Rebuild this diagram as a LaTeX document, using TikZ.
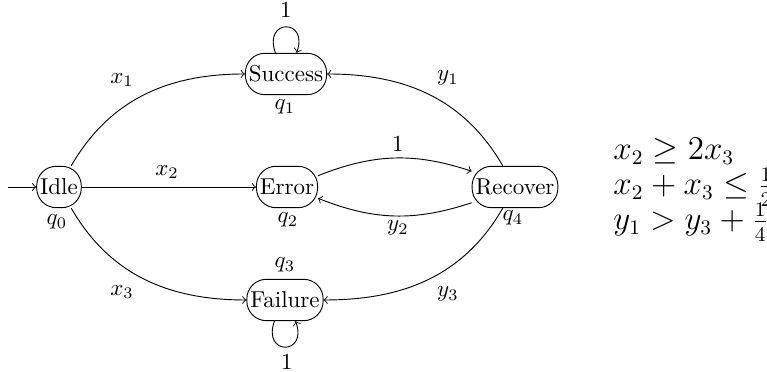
\documentclass[tikz,border=0pt]{standalone}
\usetikzlibrary{arrows.meta}
\begin{document}
\begin{tikzpicture}[x=0.4348pt,y=0.4348pt,>=to,
  state/.style={draw, rounded corners=8.5pt, inner xsep=1.5pt, inner ysep=0pt, minimum height=18pt},
  lbl/.style={inner sep=0pt},
  cons/.style={inner sep=0pt, anchor=base west, font=\fontsize{13.5}{15.5}\selectfont}]
\useasboundingbox (0,0) rectangle (767,372);
\clip (0,0) rectangle (767,372);
% states
\node[state] (idle) at (59,185) {Idle};
\node[state] (success) at (286,298) {Success};
\node[state] (error) at (287,185) {Error};
\node[state] (failure) at (285,72) {Failure};
\node[state] (recover) at (515,185) {Recover};
% state names
\node[lbl] (q0) at (57,150) {$q_0$};
\node[lbl] (q1) at (285,265) {$q_1$};
\node[lbl] (q2) at (288,152) {$q_2$};
\node[lbl] (q3) at (285,107) {$q_3$};
\node[lbl] (q4) at (513,154) {$q_4$};
% initial arrow
\coordinate (init) at (8,185);
\draw[->] (init) -- (idle);
% transitions
\draw[->] (idle) to[out=60,in=180] (success.west);
\draw[->] (idle) -- (error);
\draw[->] (idle) to[out=-60,in=180] (failure.west);
\draw[->] (recover) to[out=120,in=0] (success.east);
\draw[->] (recover) to[out=-120,in=0] (failure.east);
\draw[->] (error) to[bend left=20] (recover);
\draw[->] (recover) to[bend left=20] (error);
\draw[->] ([xshift=-4.6pt]success.north) .. controls +(110:16pt) and +(70:16pt) .. ([xshift=4.6pt]success.north);
\draw[->] ([xshift=-4.6pt]failure.south) .. controls +(-110:16pt) and +(-70:16pt) .. ([xshift=4.6pt]failure.south);
% transition labels
\node[lbl] (lx1) at (122,292) {$x_1$};
\node[lbl] (lx2) at (167,200) {$x_2$};
\node[lbl] (lx3) at (122,80) {$x_3$};
\node[lbl] (ly1) at (448,294) {$y_1$};
\node[lbl] (ly3) at (448,78) {$y_3$};
\node[lbl] (ler) at (398,228) {$1$};
\node[lbl] (ly2) at (398,144) {$y_2$};
\node[lbl] (ls) at (286,362) {$1$};
\node[lbl] (lf) at (287,10) {$1$};
% constraints
\node[cons] (c1) at (613,212) {$x_2 \geq 2x_3$};
\node[cons] (c2) at (613,177) {$x_2 + x_3 \leq \frac{1}{2}$};
\node[cons] (c3) at (613,142) {$y_1 > y_3 + \frac{1}{4}$};
\end{tikzpicture}
\end{document}
